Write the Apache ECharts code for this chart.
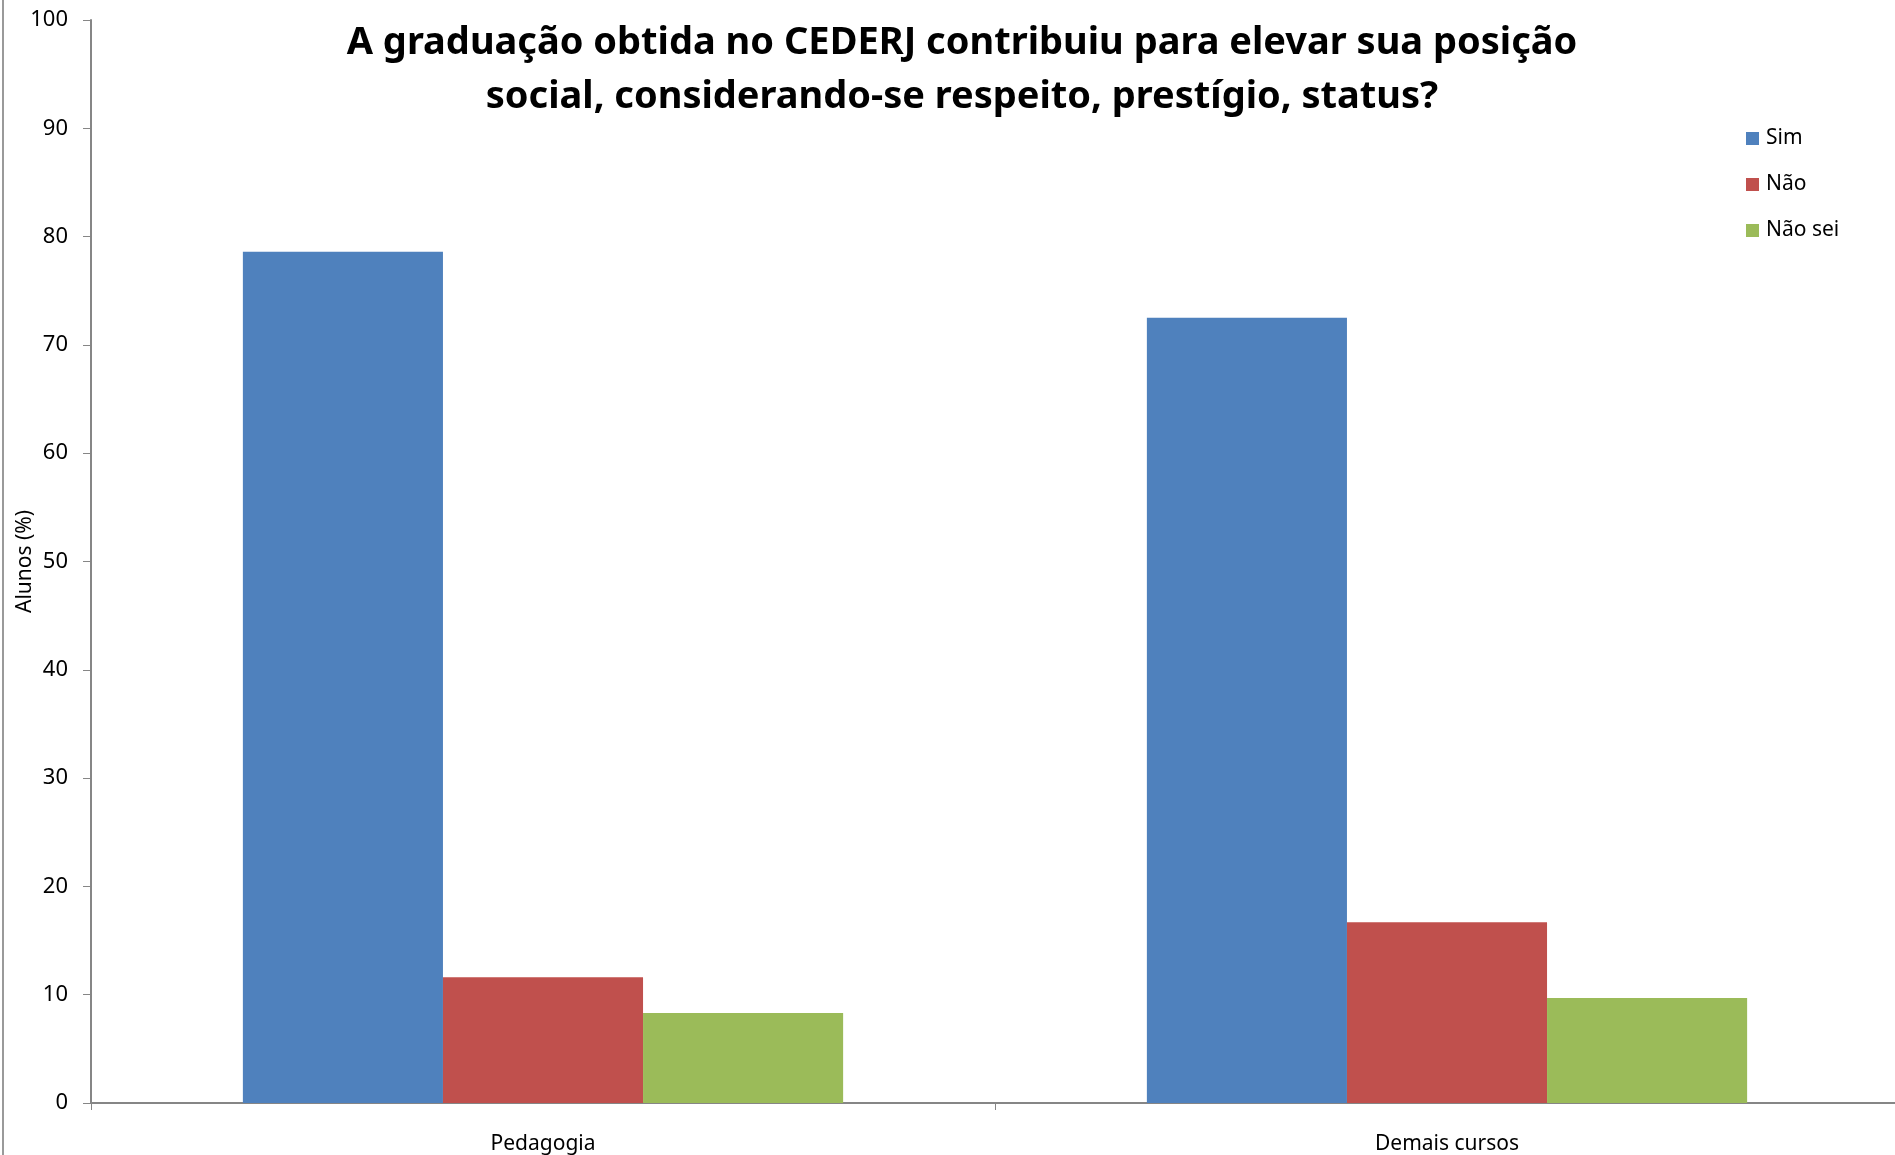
<!DOCTYPE html>
<html>
<head>
<meta charset="utf-8">
<script src="https://cdn.jsdelivr.net/npm/echarts@6/dist/echarts.min.js"></script>
<style>
  html, body { margin: 0; padding: 0; background: #fff; }
  #main { width: 1895px; height: 1155px; }
</style>
</head>
<body>
<div id="main"></div>
<script>
// dados do gráfico
var cursos = ['Pedagogia', 'Demais cursos'];
var sim = [78.6, 72.5];
var nao = [11.6, 16.7];
var naoSei = [8.3, 9.7];
var yTicks = [0, 10, 20, 30, 40, 50, 60, 70, 80, 90, 100];

var myChart = echarts.init(document.getElementById('main'));
var fonte = '"Noto Sans", sans-serif';

myChart.setOption({
    animation: false,
    title: {
        text: 'A graduação obtida no CEDERJ contribuiu para elevar sua posição\nsocial, considerando-se respeito, prestígio, status?',
        left: 957,
        top: 11,
        textAlign: 'center',
        textStyle: {
            fontFamily: fonte,
            fontSize: 38,
            fontWeight: 'bold',
            color: '#000',
            lineHeight: 54
        }
    },
    legend: {
        orient: 'vertical',
        left: 1741,
        top: 123,
        itemWidth: 13,
        itemHeight: 13,
        itemGap: 25,
        icon: 'rect',
        textStyle: { fontFamily: fonte, fontSize: 21, color: '#000', padding: [0, 0, 0, 2] },
        data: ['Sim', 'Não', 'Não sei']
    },
    graphic: [{
        type: 'line',
        shape: { x1: 3, y1: 0, x2: 3, y2: 1155 },
        style: { stroke: '#9a9a9a', lineWidth: 2 }
    }],
    grid: {
        left: 91,
        top: 20,
        width: 1808,
        bottom: 52,
        containLabel: false,
        outerBoundsMode: 'none'
    },
    xAxis: {
        type: 'category',
        data: cursos,
        axisLine: { lineStyle: { color: '#868686', width: 2 } },
        axisTick: { show: true, length: 7, lineStyle: { color: '#868686' } },
        axisLabel: { fontFamily: fonte, fontSize: 21, color: '#000', margin: 31 }
    },
    yAxis: {
        type: 'value',
        min: yTicks[0],
        max: yTicks[yTicks.length - 1],
        interval: yTicks[1] - yTicks[0],
        name: 'Alunos (%)',
        nameLocation: 'middle',
        nameGap: 55,
        nameMoveOverlap: false,
        nameTextStyle: { fontFamily: fonte, fontSize: 21, color: '#000' },
        splitLine: { show: false },
        axisLine: { show: true, lineStyle: { color: '#868686', width: 2 } },
        axisTick: { show: true, length: 8, lineStyle: { color: '#868686' } },
        axisLabel: { fontFamily: fonte, fontSize: 22, color: '#000', margin: 23 }
    },
    series: [{
        name: 'Sim',
        type: 'bar',
        data: sim,
        barGap: '0%',
        barCategoryGap: '33.6%',
        itemStyle: { color: '#4F81BD' }
    }, {
        name: 'Não',
        type: 'bar',
        data: nao,
        itemStyle: { color: '#C0504D' }
    }, {
        name: 'Não sei',
        type: 'bar',
        data: naoSei,
        itemStyle: { color: '#9BBB59' }
    }]
});
</script>
</body>
</html>
